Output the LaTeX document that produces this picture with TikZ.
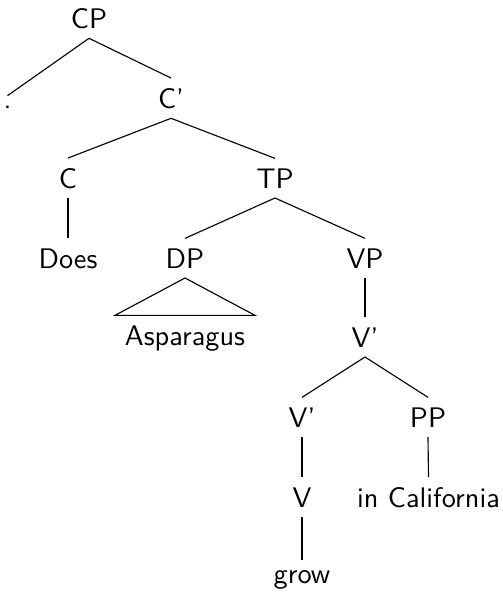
\documentclass[tikz,border=0pt]{standalone}
\begin{document}
\begin{tikzpicture}[x=0.3534pt,y=-0.3534pt,
  lbl/.style={anchor=base,font=\sffamily,inner sep=3.333pt},
  branch/.style={draw=black,line width=0.4pt}]
\useasboundingbox (0,0) rectangle (503,593);
\node[lbl] (CP) at (89,28) {CP};
\node[lbl] (dot) at (7.5,108) {.};
\node[lbl] (Cbar) at (171,108) {C'};
\node[lbl] (C) at (68,188) {C};
\node[lbl] (TP) at (275,188) {TP};
\node[lbl] (Does) at (68,268) {Does};
\node[lbl] (DP) at (185,268) {DP};
\node[lbl] (VP) at (365,268) {VP};
\node[lbl] (Asp) at (185,345) {Asparagus};
\node[lbl] (Vbar1) at (365,347) {V'};
\node[lbl] (Vbar2) at (302,427) {V'};
\node[lbl] (PP) at (428,427) {PP};
\node[lbl] (V) at (302,507) {V};
\node[lbl] (inC) at (428.5,507) {in California};
\node[lbl] (grow) at (302,583) {grow};
\draw[branch] (CP.south) -- (dot.north);
\draw[branch] (CP.south) -- (Cbar.north);
\draw[branch] (Cbar.south) -- (C.north);
\draw[branch] (Cbar.south) -- (TP.north);
\draw[branch] (C.south) -- (Does.north);
\draw[branch] (TP.south) -- (DP.north);
\draw[branch] (TP.south) -- (VP.north);
\draw[branch] (DP.south) -- (Asp.north west) -- (Asp.north east) -- cycle;
\draw[branch] (VP.south) -- (Vbar1.north);
\draw[branch] (Vbar1.south) -- (Vbar2.north);
\draw[branch] (Vbar1.south) -- (PP.north);
\draw[branch] (Vbar2.south) -- (V.north);
\draw[branch] (PP.south) -- (inC.north);
\draw[branch] (V.south) -- (grow.north);
\end{tikzpicture}
\end{document}
